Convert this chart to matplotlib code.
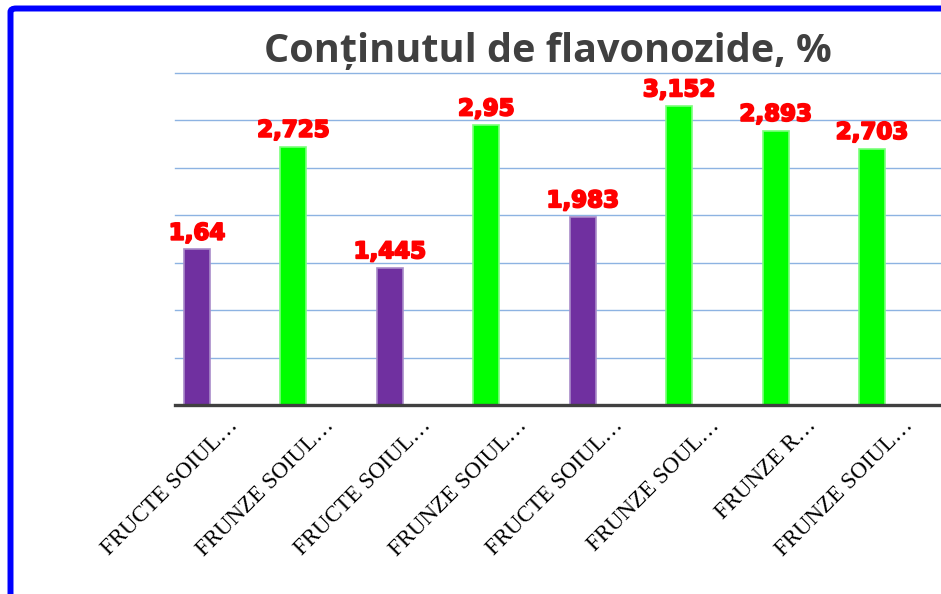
import matplotlib.pyplot as plt
import matplotlib.patheffects as pe
from matplotlib.patches import FancyBboxPatch

# ==============================
# Data
# ==============================
labels = ["FRUCTE SOIUL…", "FRUNZE SOIUL…", "FRUCTE SOIUL…", "FRUNZE SOIUL…",
          "FRUCTE SOIUL…", "FRUNZE SOUL…", "FRUNZE R…", "FRUNZE SOIUL…"]
values = [1.64, 2.725, 1.445, 2.95, 1.983, 3.152, 2.893, 2.703]
value_text = ["1,64", "2,725", "1,445", "2,95", "1,983", "3,152", "2,893", "2,703"]
kinds = ["fructe", "frunze", "fructe", "frunze", "fructe", "frunze", "frunze", "frunze"]

COLORS = {"fructe": "#7030A0", "frunze": "#00FF00"}
EDGES = {"fructe": "#A98BC9", "frunze": "#7CFF7C"}

W, H = 941, 594
fig = plt.figure(figsize=(W / 100, H / 100), dpi=100)

# plot area in pixels
left_px, right_px, top_px, base_px = 175, 941, 73, 405
ax = fig.add_axes([left_px / W, 1 - base_px / H,
                   (right_px - left_px) / W, (base_px - top_px) / H])

x = list(range(len(values)))
ax.bar(x, values, width=0.27,
       color=[COLORS[k] for k in kinds],
       edgecolor=[EDGES[k] for k in kinds], linewidth=1.2, zorder=3)

step = 96.43
ax.set_xlim((left_px - 197) / step, (right_px - 197) / step)
ax.set_ylim(0, 3.5)

# gridlines
ax.set_yticks([0.5, 1, 1.5, 2, 2.5, 3, 3.5])
ax.yaxis.grid(True, color="#8DB3E2", linewidth=1.0)
for gl in ax.get_ygridlines():
    gl.set_clip_on(False)
ax.set_axisbelow(True)
ax.tick_params(left=False, bottom=False, labelleft=False, labelbottom=False)
for s in ax.spines.values():
    s.set_visible(False)
ax.axhline(0, color="#404040", linewidth=2.4, clip_on=False, zorder=4)

# value labels
for i, (v, t) in enumerate(zip(values, value_text)):
    ax.annotate(t, xy=(i, v), xytext=(0, 7), textcoords="offset points",
                ha="center", va="baseline", color="#FF0000", fontsize=16.5,
                fontweight="bold", family="DejaVu Sans",
                path_effects=[pe.withStroke(linewidth=1.4, foreground="#FF0000")],
                zorder=5)

# category labels
for i, lab in enumerate(labels):
    ax.annotate(lab, xy=(i, 0), xycoords=("data", "data"),
                xytext=(27, -12.5), textcoords="offset points",
                rotation=45, rotation_mode="anchor", ha="right", va="center",
                fontsize=16.5, family="Liberation Serif", color="black",
                annotation_clip=False)

# title
fig.text(548 / W, 1 - 62 / H, "Conținutul de flavonozide, %",
         ha="center", va="baseline", fontsize=28.5, fontweight="bold",
         family="Open Sans", color="#404040")

# blue frame
frame = FancyBboxPatch((10.5 / W, -0.01), 1.1, 1 - 8.5 / H + 0.01,
                       boxstyle="round,pad=0,rounding_size=0.006",
                       transform=fig.transFigure, fill=False,
                       edgecolor="#0000FF", linewidth=4.3)
fig.patches.append(frame)

fig.savefig("out.png", dpi=100)
